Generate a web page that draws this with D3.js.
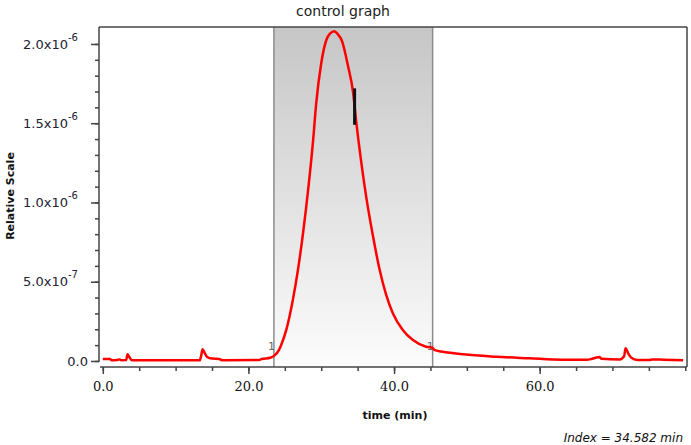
<!DOCTYPE html>
<meta charset="utf-8">
<html>
<head>
  <script src="https://d3js.org/d3.v7.min.js" charset="utf-8"></script>
</head>
<style>
body { margin: 0; background: white; }
svg { display: block; background: white; }
.title { font-family: "DejaVu Sans", sans-serif; font-size: 14px; fill: #222; text-anchor: middle; }
.ylabel, .xlabel { font-family: "DejaVu Sans", sans-serif; font-size: 11px; font-weight: bold; fill: #111; text-anchor: middle; }
.yticks text { font-family: "DejaVu Sans", sans-serif; font-size: 13px; fill: #223; }
.xticks text { font-family: "DejaVu Serif", serif; font-size: 13px; fill: #111; }
.index { font-family: "DejaVu Sans", sans-serif; font-size: 12px; font-style: italic; fill: #111; text-anchor: end; }
.bandlabel { font-family: "DejaVu Sans", sans-serif; font-size: 11px; fill: #666; text-anchor: end; }
</style>
<body>
<div id="container"></div>
<script>

// time (min) and signal (units of 1e-6, relative scale)
var times = [0, 1.0, 1.2, 2.0, 2.3, 2.6, 3.2, 3.4, 3.7, 4.0, 13.3, 13.5, 13.7, 14.0, 14.3, 15.0, 16.0, 16.4,
  21.5, 21.8, 23.0, 23.6, 24.2, 24.5, 25.2, 26.1, 26.8, 27.5, 28.2, 28.9, 29.3, 30.0, 30.7, 31.2, 31.8,
  32.3, 32.8, 33.7, 34.36, 34.83, 35.52, 36.21, 37.1, 38.0, 38.9, 39.85, 41.2, 42.6, 44.4, 45.2, 45.6, 46.5,
  49.5, 54, 58.6, 63.1, 66.5, 67.2, 68.2, 68.5, 71.0, 71.6, 71.8, 72.2, 72.6, 73.4, 75.0, 75.5, 77.0, 79.7];
var signal = [0.013, 0.013, 0.004, 0.006, 0.010, 0.005, 0.006, 0.042, 0.020, 0.004, 0.004, 0.030, 0.074, 0.050, 0.027, 0.015, 0.013, 0.004,
  0.006, 0.012, 0.020, 0.035, 0.070, 0.101, 0.196, 0.385, 0.574, 0.806, 1.079, 1.40, 1.62, 1.878, 2.025, 2.065, 2.08,
  2.06, 2.025, 1.857, 1.70, 1.50, 1.247, 1.026, 0.79, 0.58, 0.42, 0.30, 0.196, 0.132, 0.090, 0.085, 0.068, 0.060,
  0.042, 0.027, 0.017, 0.008, 0.008, 0.014, 0.025, 0.014, 0.010, 0.030, 0.080, 0.045, 0.020, 0.006, 0.006, 0.010, 0.008, 0.004];

// integration window, cursor
var windowStart = 23.5, windowEnd = 45.3;
var cursorTime = 34.582;
var cursorRange = [1.49, 1.72];

var yTicks = [0, 0.5, 1.0, 1.5, 2.0];
var yTickMantissa = ["0.0", "5.0x10", "1.0x10", "1.5x10", "2.0x10"];
var yTickExponent = ["", "-7", "-6", "-6", "-6"];
var yMinor = d3.range(0, 2.01, 0.1);
var xTicks = [0, 20, 40, 60];
var xMinor = d3.range(0, 80.1, 5);

var width = 691, height = 445;
var plot = {left: 99, right: 687, top: 27, bottom: 367};

var svg = d3.select("#container").append("svg")
  .attr("width", width).attr("height", height);

var x = d3.scaleLinear().domain([-0.66, 80.1]).range([98, 686]);
var y = d3.scaleLinear().domain([-0.038, 2.107]).range([plot.bottom, plot.top]);

// shaded window with gradient
var grad = svg.append("defs").append("linearGradient")
  .attr("id", "band").attr("x1", 0).attr("y1", 0).attr("x2", 0).attr("y2", 1);
grad.append("stop").attr("offset", "0%").attr("stop-color", "#c6c6c6");
grad.append("stop").attr("offset", "100%").attr("stop-color", "#fcfcfc");

svg.append("rect")
  .attr("x", x(windowStart)).attr("y", plot.top)
  .attr("width", x(windowEnd) - x(windowStart))
  .attr("height", plot.bottom - plot.top)
  .attr("fill", "url(#band)");

[windowStart, windowEnd].forEach(function(t) {
  svg.append("line")
    .attr("x1", x(t)).attr("x2", x(t))
    .attr("y1", plot.top).attr("y2", plot.bottom)
    .attr("stroke", "#8c8c8c").attr("stroke-width", 1.5);
  svg.append("text").attr("class", "bandlabel")
    .attr("x", x(t) + 1).attr("y", 350).text("1");
});

// frame
var frame = svg.append("g").attr("stroke", "#444").attr("stroke-width", 1.5);
frame.append("line").attr("x1", plot.left).attr("x2", plot.right).attr("y1", plot.top).attr("y2", plot.top);
frame.append("line").attr("x1", plot.right).attr("x2", plot.right).attr("y1", plot.top).attr("y2", plot.bottom);
frame.append("line").attr("x1", plot.left).attr("x2", plot.left).attr("y1", plot.top).attr("y2", y(0) + 1);
frame.append("line").attr("x1", plot.left + 1).attr("x2", plot.right).attr("y1", plot.bottom).attr("y2", plot.bottom);

// y axis
var yMinorAxis = svg.append("g").attr("transform", "translate(" + plot.left + ",0)")
  .call(d3.axisLeft(y).tickValues(yMinor).tickSize(4).tickSizeOuter(0).tickFormat(""));
var yAxis = svg.append("g").attr("class", "yticks").attr("transform", "translate(" + plot.left + ",0)")
  .call(d3.axisLeft(y).tickValues(yTicks).tickSize(8).tickSizeOuter(0).tickPadding(3)
    .tickFormat(function(d, i) { return yTickMantissa[i]; }));
yAxis.selectAll("text").each(function(d, i) {
  if (yTickExponent[i]) {
    d3.select(this).attr("dx", "-10px");
    d3.select(this).append("tspan")
      .attr("dy", "-8px").attr("font-size", "10px").text(yTickExponent[i]);
  }
});

// x axis
var xMinorAxis = svg.append("g").attr("transform", "translate(0," + plot.bottom + ")")
  .call(d3.axisBottom(x).tickValues(xMinor).tickSize(4).tickSizeOuter(0).tickFormat(""));
var xAxis = svg.append("g").attr("class", "xticks").attr("transform", "translate(0," + plot.bottom + ")")
  .call(d3.axisBottom(x).tickValues(xTicks).tickSize(7).tickSizeOuter(0).tickPadding(8)
    .tickFormat(d3.format(".1f")));

[yMinorAxis, yAxis, xMinorAxis, xAxis].forEach(function(a) {
  a.select(".domain").remove();
  a.selectAll("line").attr("stroke", "#444").attr("stroke-width", 1.5);
});

// trace
var line = d3.line()
  .x(function(d, i) { return x(times[i]); })
  .y(function(d) { return y(d); })
  .curve(d3.curveMonotoneX);

svg.append("path")
  .datum(signal)
  .attr("d", line)
  .attr("fill", "none")
  .attr("stroke", "#ff0000")
  .attr("stroke-width", 2.5)
  .attr("stroke-linejoin", "round");

// cursor marker
svg.append("line")
  .attr("x1", x(cursorTime)).attr("x2", x(cursorTime))
  .attr("y1", y(cursorRange[0])).attr("y2", y(cursorRange[1]))
  .attr("stroke", "#111").attr("stroke-width", 3);

// texts
svg.append("text").attr("class", "title").attr("x", 343).attr("y", 16).text("control graph");
svg.append("text").attr("class", "xlabel").attr("x", 395).attr("y", 419).text("time (min)");
svg.append("text").attr("class", "ylabel")
  .attr("transform", "translate(14,196) rotate(-90)").text("Relative Scale");
svg.append("text").attr("class", "index").attr("x", 683).attr("y", 442)
  .text("Index = " + cursorTime + " min");

</script>
</body>
</html>
